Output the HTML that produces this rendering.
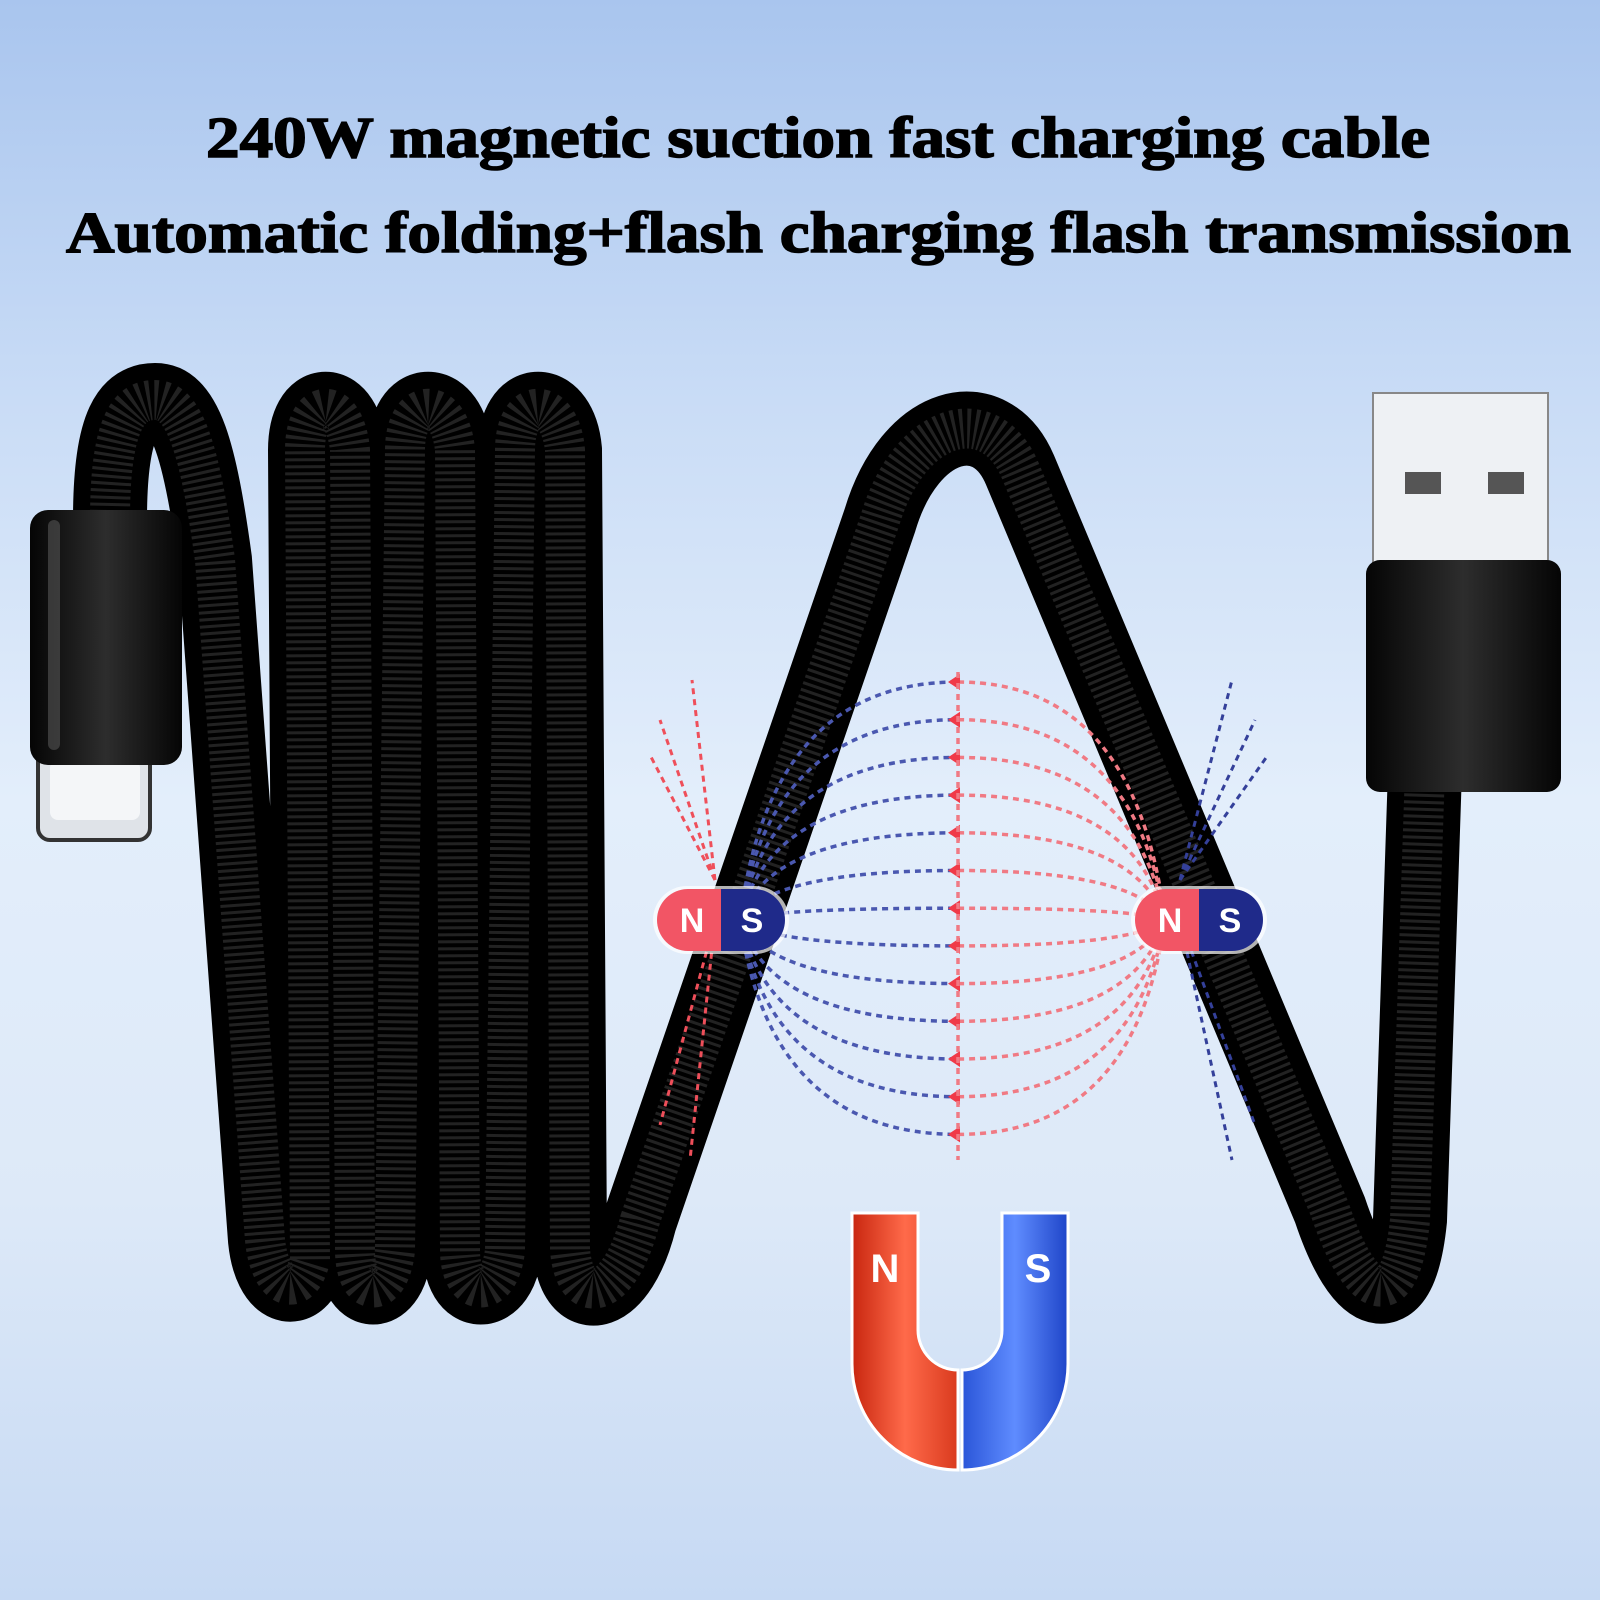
<!DOCTYPE html>
<html><head><meta charset="utf-8"><style>
html,body{margin:0;padding:0}
body{width:1600px;height:1600px;overflow:hidden;background:linear-gradient(180deg,#a9c5ee 0%,#c9dcf6 25%,#e3eefb 50%,#dde9f8 75%,#c6d9f3 100%);font-family:"Liberation Serif",serif}
svg{position:absolute;left:0;top:0}
</style></head><body>
<svg width="1600" height="1600" viewBox="0 0 1600 1600">
<defs>
<linearGradient id="uR" x1="0" x2="1"><stop offset="0" stop-color="#c8260f"/><stop offset=".5" stop-color="#ff6a4a"/><stop offset="1" stop-color="#d93a1e"/></linearGradient>
<linearGradient id="uB" x1="0" x2="1"><stop offset="0" stop-color="#2a55d8"/><stop offset=".5" stop-color="#5f8cff"/><stop offset="1" stop-color="#1f45c8"/></linearGradient>
<linearGradient id="blk" x1="0" x2="1"><stop offset="0" stop-color="#050505"/><stop offset=".5" stop-color="#2d2d2d"/><stop offset="1" stop-color="#050505"/></linearGradient>
</defs>
<text x="206" y="157" textLength="1224" lengthAdjust="spacingAndGlyphs" font-family="Liberation Serif,serif" font-weight="bold" font-size="58" fill="#000" stroke="#000" stroke-width="1.5">240W magnetic suction fast charging cable</text>
<text x="66" y="252" textLength="1505" lengthAdjust="spacingAndGlyphs" font-family="Liberation Serif,serif" font-weight="bold" font-size="58" fill="#000" stroke="#000" stroke-width="1.5">Automatic folding+flash charging flash transmission</text>

<g fill="none" stroke-linecap="round" stroke-linejoin="round">
<g id="cab">
<path d="M110 520 C110 420 130 400 155 400 C185 400 200 450 215 560 L265 1240 C270 1290 300 1300 310 1260 L305 450 C305 395 345 395 350 450 L355 1250 C355 1300 390 1300 395 1250 L405 450 C405 395 450 395 455 450 L460 1250 C460 1300 500 1300 505 1250 L515 450 C515 395 560 395 565 450 L570 1250 C575 1310 620 1300 640 1220 L880 520 C910 420 990 400 1020 470 L1330 1210 C1360 1300 1400 1320 1410 1220 L1425 770"/>
</g>
</g>
<use href="#cab" stroke="#000" stroke-width="74" fill="none"/>
<use href="#cab" stroke="#2b2b2b" stroke-width="40" fill="none" stroke-dasharray="3 4" opacity=".8"/>

<rect x="38" y="745" width="112" height="95" rx="12" fill="#dfe3e8" stroke="#333" stroke-width="4"/>
<rect x="50" y="760" width="90" height="60" rx="8" fill="#f4f6f8"/>
<rect x="30" y="510" width="152" height="255" rx="18" fill="url(#blk)"/>
<rect x="48" y="520" width="12" height="230" rx="6" fill="#555" opacity=".6"/>
<rect x="1373" y="393" width="175" height="175" fill="#eef1f4" stroke="#888" stroke-width="2"/>
<rect x="1405" y="472" width="36" height="22" fill="#555"/>
<rect x="1488" y="472" width="36" height="22" fill="#555"/>
<rect x="1366" y="560" width="195" height="232" rx="14" fill="url(#blk)"/>

<g id="fl" fill="none" stroke-width="3.5" stroke-dasharray="6 5"></g>
<g fill="none" stroke-width="3" stroke-dasharray="6 5">
<path d="M715 880 L692 680 M715 880 L660 720 M715 880 L650 755 M715 920 L690 1160 M715 920 L660 1125" stroke="#ef4f5a"/>
<path d="M1180 880 L1232 680 M1180 880 L1255 720 M1180 880 L1268 755 M1180 920 L1232 1160 M1180 920 L1255 1125" stroke="#34409a"/>
</g>
<g font-family="Liberation Sans,sans-serif" font-weight="bold" font-size="34" text-anchor="middle">
<rect x="653" y="886" width="136" height="68" rx="34" fill="#fff" opacity=".7"/>
<path d="M721 889 H688 A31 31 0 0 0 688 951 H721Z" fill="#f25565"/>
<path d="M721 889 H754 A31 31 0 0 1 754 951 H721Z" fill="#1f2a8a"/>
<text x="692" y="932" fill="#fff">N</text><text x="752" y="932" fill="#fff">S</text>
<rect x="1131" y="886" width="136" height="68" rx="34" fill="#fff" opacity=".7"/>
<path d="M1199 889 H1166 A31 31 0 0 0 1166 951 H1199Z" fill="#f25565"/>
<path d="M1199 889 H1232 A31 31 0 0 1 1232 951 H1199Z" fill="#1f2a8a"/>
<text x="1170" y="932" fill="#fff">N</text><text x="1230" y="932" fill="#fff">S</text>
</g>
<path d="M852 1213 H918 V1330 A40 40 0 0 0 958 1370 V1470 A106 106 0 0 1 852 1364Z" fill="url(#uR)" stroke="#fff" stroke-width="3"/>
<path d="M1068 1213 H1002 V1330 A40 40 0 0 1 962 1370 V1470 A106 106 0 0 0 1068 1364Z" fill="url(#uB)" stroke="#fff" stroke-width="3"/>
<g font-family="Liberation Sans,sans-serif" font-weight="bold" font-size="40" fill="#fff" text-anchor="middle"><text x="885" y="1282">N</text><text x="1038" y="1282">S</text></g>
</svg>
<script>
var g=document.getElementById('fl'),s='';
for(var i=0;i<13;i++){var y=682+i*37.7;
var lx=740,rx=1165;
s+='<path stroke="#4a58b0" d="M'+lx+' 920 Q'+(lx+30)+' '+y+' 958 '+y+'"/>';
s+='<path stroke="#f07a84" d="M958 '+y+' Q'+(rx-30)+' '+y+' '+rx+' 920"/>';
s+='<path stroke="none" fill="#f03a48" stroke-dasharray="none" d="M948 '+y+' l12 -8 v16z"/>';}
s+='<path stroke="#f07a84" d="M958 672 V1160"/>';
g.innerHTML=s;
</script>
</body></html>
